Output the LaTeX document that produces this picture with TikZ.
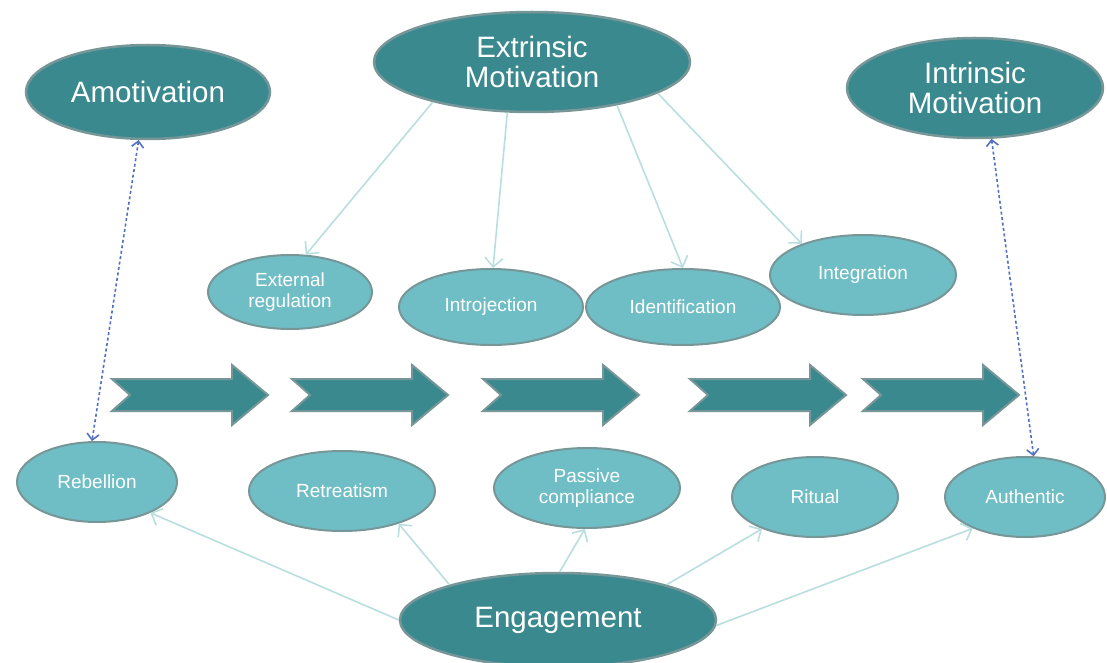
\documentclass[tikz,border=0pt]{standalone}
\usepackage{fontspec}
\setmainfont{Liberation Sans}
\usetikzlibrary{shapes.geometric,arrows.meta}

\definecolor{darkteal}{RGB}{58,137,142}
\definecolor{lightteal}{RGB}{112,190,197}
\definecolor{rimgrey}{RGB}{118,150,152}
\definecolor{linkcol}{RGB}{185,222,222}
\definecolor{dotblue}{RGB}{82,112,192}

\tikzset{
  bigstate/.style={ellipse, draw=rimgrey, line width=2.5pt, fill=darkteal, text=white,
    font=\fontsize{29.5}{30}\selectfont, align=center, inner sep=0pt},
  smallstate/.style={ellipse, draw=rimgrey, line width=2pt, fill=lightteal, text=white,
    font=\fontsize{19}{21}\selectfont, align=center, inner sep=0pt},
  link/.style={draw=linkcol, line width=1.6pt, -{Straight Barb[length=9pt,width=18pt]}},
  dotlink/.style={draw=dotblue, line width=1.6pt, dash pattern=on 3pt off 2.5pt,
    {Straight Barb[length=6pt,width=12pt]}-{Straight Barb[length=6pt,width=12pt]}},
  chevron/.style={fill=darkteal, draw=rimgrey, line width=2pt, line join=miter}
}

\begin{document}
\begin{tikzpicture}[x=1pt,y=-1pt]
\useasboundingbox (0,0) rectangle (1107,663);

% motivation types
\node[bigstate, minimum width=244, minimum height=94] (amot) at (148,92) {Amotivation};
\node[bigstate, minimum width=316, minimum height=100] (extr) at (532,62) {Extrinsic\\Motivation};
\node[bigstate, minimum width=256, minimum height=100] (intr) at (975,88) {Intrinsic\\Motivation};

% regulation styles
\node[smallstate, minimum width=164, minimum height=74] (extreg) at (290,292) {External\\regulation};
\node[smallstate, minimum width=184, minimum height=76] (introj) at (491,307) {Introjection};
\node[smallstate, minimum width=194, minimum height=76] (ident) at (683,307) {Identification};
\node[smallstate, minimum width=186, minimum height=80] (integ) at (863,275) {Integration};

% continuum
\foreach \xa in {112,292,483,690,863}
  \draw[chevron] (\xa,379) -- ({\xa+120},379) -- ({\xa+120},365) -- ({\xa+156},395)
    -- ({\xa+120},425) -- ({\xa+120},411) -- (\xa,411) -- ({\xa+18},395) -- cycle;

% engagement styles
\node[smallstate, minimum width=160, minimum height=80] (rebel) at (97,482) {Rebellion};
\node[smallstate, minimum width=186, minimum height=80] (retreat) at (342,491) {Retreatism};
\node[smallstate, minimum width=186, minimum height=80] (passive) at (587,488) {Passive\\compliance};
\node[smallstate, minimum width=166, minimum height=80] (ritual) at (815,497) {Ritual};
\node[smallstate, minimum width=160, minimum height=80] (auth) at (1025,497) {Authentic};

\node[bigstate, minimum width=316, minimum height=94] (engage) at (558,620) {Engagement};

% links
\draw[link] (extr.202) -- (extreg.67);
\draw[link] (extr.244) -- (introj.87);
\draw[link] (extr.333) -- (ident.90);
\draw[link] (extr.346) -- (integ.153);

\draw[link] (engage.180) -- (rebel.330);
\draw[link] (engage.162) -- (retreat.330);
\draw[link] (engage.88) -- (passive.267);
\draw[link] (engage.18) -- (ritual.211);
\draw[link] (engage.358) -- (auth.211);

\draw[dotlink] (amot.259) -- (rebel.97);
\draw[dotlink] (intr.288) -- (auth.78);
\end{tikzpicture}
\end{document}
